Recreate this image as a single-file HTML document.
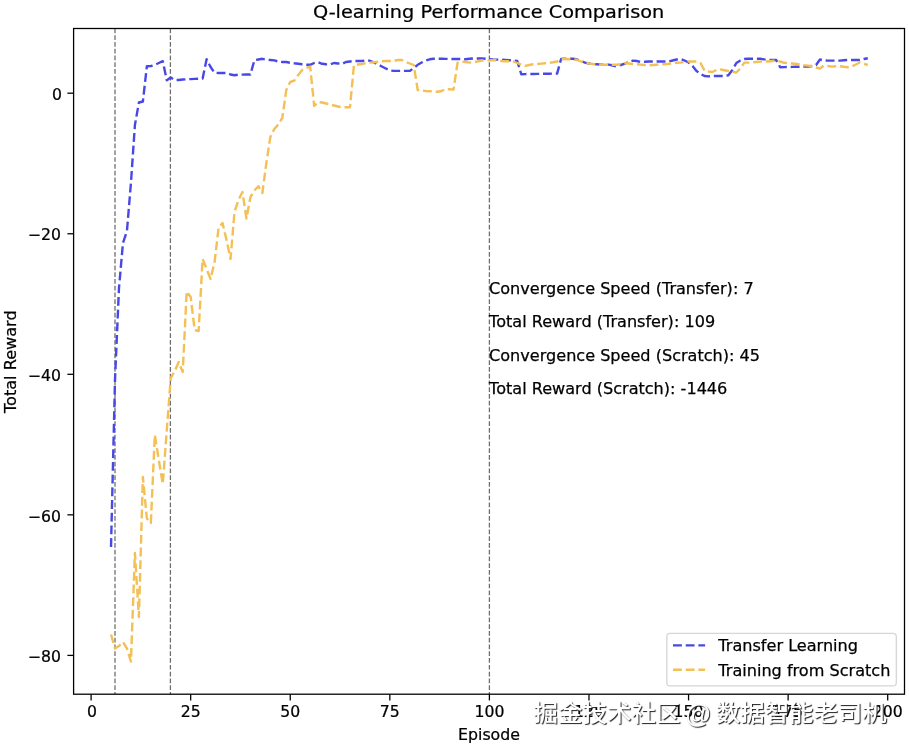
<!DOCTYPE html>
<html><head><meta charset="utf-8"><title>Q-learning Performance Comparison</title>
<style>
html,body{margin:0;padding:0;background:#fff;}
body{width:909px;height:748px;overflow:hidden;position:relative;}
.wm{position:absolute;font-family:"Liberation Sans","Noto Sans CJK SC",sans-serif;font-weight:500;color:#fff;white-space:nowrap;line-height:1;
text-shadow:1px 1px 1px #222;transform-origin:0 0;}
.w1{left:533.6px;top:701.5px;font-size:24.5px;transform:scale(1,0.95);}
.w2{left:685.1px;top:700.9px;font-size:26px;font-weight:400;}
.w3{left:715.9px;top:701.5px;font-size:24.4px;transform:scale(1,0.95);}
</style></head><body>
<svg width="909" height="748" viewBox="0 0 909 748" style="position:absolute;left:0;top:0">
<rect x="0" y="0" width="909" height="748" fill="#fff"/>
<defs><clipPath id="c"><rect x="73.60" y="28.50" width="830.90" height="665.70"/></clipPath></defs>
<line x1="115.00" y1="28.50" x2="115.00" y2="694.20" stroke="#6e6e6e" stroke-width="1.28" stroke-dasharray="4.73 2.04"/>
<line x1="170.40" y1="28.50" x2="170.40" y2="694.20" stroke="#6e6e6e" stroke-width="1.28" stroke-dasharray="4.73 2.04"/>
<line x1="489.40" y1="28.50" x2="489.40" y2="694.20" stroke="#6e6e6e" stroke-width="1.28" stroke-dasharray="4.73 2.04"/>
<polyline clip-path="url(#c)" points="111.01,547.00 115.00,380.00 118.98,288.00 122.96,243.00 126.95,231.00 130.93,183.00 134.91,125.00 138.90,102.50 142.88,101.50 146.86,66.30 150.84,66.00 154.83,65.00 158.81,63.00 162.79,61.20 166.78,80.30 170.76,77.60 174.74,80.00 178.73,80.00 182.71,79.50 186.69,79.30 190.68,79.10 194.66,78.90 198.64,78.70 202.62,78.60 206.61,59.30 210.59,67.00 214.57,72.80 218.56,73.00 222.54,73.00 226.52,73.00 230.50,74.50 234.49,75.30 238.47,74.70 242.45,74.60 246.44,74.50 250.42,74.50 254.40,60.20 258.39,59.50 262.37,58.80 266.35,59.70 270.34,60.00 274.32,60.40 278.30,61.50 282.28,62.00 286.27,62.00 290.25,62.80 294.23,63.30 298.22,63.70 302.20,64.30 306.18,64.80 310.16,64.80 314.15,63.00 318.13,62.30 322.11,63.80 326.10,64.30 330.08,64.50 334.06,63.00 338.05,63.50 342.03,64.00 346.01,62.00 350.00,61.50 353.98,61.00 357.96,61.00 361.94,61.00 365.93,60.50 369.91,60.80 373.89,62.30 377.88,64.50 381.86,66.50 385.84,68.50 389.83,70.40 393.81,70.90 397.79,70.90 401.77,70.90 405.76,70.90 409.74,70.90 413.72,68.10 417.71,64.80 421.69,62.50 425.67,60.60 429.65,59.30 433.64,58.80 437.62,58.80 441.60,58.80 445.59,58.90 449.57,58.90 453.55,59.00 457.54,59.00 461.52,59.10 465.50,59.30 469.49,58.80 473.47,58.50 477.45,58.50 481.43,58.50 485.42,58.80 489.40,59.30 493.38,59.50 497.37,59.60 501.35,59.80 505.33,59.90 509.32,60.20 513.30,60.60 517.28,61.00 521.26,74.20 525.25,74.10 529.23,74.00 533.21,74.00 537.20,73.90 541.18,73.80 545.16,73.80 549.14,73.70 553.13,73.60 557.11,73.60 561.09,59.00 565.08,58.80 569.06,58.80 573.04,58.80 577.03,59.50 581.01,61.00 584.99,62.60 588.98,63.50 592.96,64.00 596.94,64.30 600.92,64.60 604.91,64.60 608.89,64.60 612.87,65.50 616.86,66.50 620.84,65.00 624.82,63.70 628.81,62.00 632.79,60.60 636.77,61.00 640.75,62.00 644.74,61.80 648.72,61.50 652.70,61.50 656.69,61.50 660.67,61.50 664.65,61.50 668.63,61.50 672.62,60.50 676.60,59.50 680.58,59.00 684.57,60.50 688.55,62.50 692.53,66.00 696.52,71.00 700.50,74.00 704.48,76.00 708.47,76.40 712.45,76.00 716.43,76.00 720.41,76.00 724.40,76.00 728.38,75.30 732.36,70.00 736.35,63.00 740.33,60.50 744.31,59.00 748.30,58.80 752.28,58.80 756.26,58.80 760.24,58.80 764.23,59.40 768.21,59.90 772.19,60.00 776.18,60.00 780.16,67.20 784.14,67.10 788.12,67.00 792.11,66.90 796.09,66.80 800.07,66.70 804.06,66.60 808.04,66.60 812.02,66.00 816.01,65.00 819.99,59.50 823.97,60.50 827.96,60.60 831.94,60.60 835.92,60.60 839.90,60.60 843.89,60.20 847.87,60.00 851.85,60.00 855.84,60.00 859.82,60.00 863.80,59.00 867.79,58.20" fill="none" stroke="#4848e6" stroke-width="2.4" stroke-dasharray="8.87 3.83" stroke-linejoin="round" stroke-linecap="butt"/>
<polyline clip-path="url(#c)" points="111.01,634.50 115.00,648.50 118.98,646.00 122.96,642.00 126.95,648.50 130.93,661.50 134.91,553.00 138.90,617.00 142.88,477.00 146.86,518.50 150.84,523.00 154.83,435.00 158.81,460.00 162.79,484.00 166.78,430.00 170.76,378.00 174.74,371.00 178.73,362.00 182.71,372.00 186.69,291.50 190.68,297.00 194.66,330.00 198.64,331.00 202.62,259.00 206.61,269.00 210.59,279.00 214.57,262.00 218.56,228.00 222.54,223.00 226.52,240.00 230.50,259.00 234.49,212.00 238.47,200.00 242.45,192.00 246.44,218.50 250.42,197.00 254.40,190.60 258.39,186.20 262.37,193.00 266.35,163.00 270.34,137.00 274.32,129.00 278.30,124.50 282.28,118.00 286.27,90.00 290.25,82.00 294.23,80.60 298.22,75.00 302.20,70.00 306.18,68.00 310.16,66.50 314.15,106.00 318.13,102.00 322.11,102.50 326.10,103.50 330.08,104.50 334.06,105.50 338.05,106.50 342.03,107.20 346.01,107.20 350.00,107.20 353.98,65.00 357.96,64.50 361.94,64.00 365.93,63.00 369.91,62.60 373.89,62.20 377.88,61.80 381.86,61.20 385.84,61.00 389.83,61.00 393.81,61.00 397.79,60.00 401.77,60.00 405.76,62.00 409.74,63.50 413.72,65.00 417.71,90.00 421.69,90.50 425.67,91.00 429.65,91.20 433.64,91.50 437.62,91.80 441.60,91.00 445.59,89.00 449.57,89.30 453.55,89.60 457.54,62.60 461.52,61.50 465.50,62.00 469.49,62.60 473.47,62.00 477.45,61.50 481.43,60.50 485.42,60.40 489.40,60.40 493.38,60.00 497.37,60.40 501.35,61.00 505.33,61.20 509.32,61.30 513.30,61.50 517.28,63.00 521.26,64.80 525.25,65.90 529.23,65.00 533.21,64.30 537.20,64.00 541.18,63.60 545.16,63.20 549.14,62.80 553.13,62.20 557.11,61.50 561.09,58.80 565.08,59.00 569.06,59.20 573.04,59.30 577.03,60.00 581.01,61.50 584.99,62.60 588.98,63.50 592.96,64.00 596.94,64.50 600.92,64.80 604.91,64.80 608.89,64.80 612.87,64.80 616.86,64.80 620.84,64.00 624.82,63.20 628.81,63.50 632.79,64.00 636.77,64.30 640.75,64.60 644.74,65.00 648.72,65.40 652.70,65.00 656.69,64.70 660.67,64.40 664.65,64.20 668.63,63.80 672.62,63.30 676.60,62.80 680.58,62.60 684.57,62.00 688.55,61.50 692.53,61.50 696.52,61.50 700.50,63.00 704.48,70.50 708.47,71.50 712.45,72.00 716.43,70.00 720.41,69.50 724.40,70.20 728.38,71.00 732.36,71.80 736.35,72.50 740.33,68.50 744.31,62.60 748.30,62.60 752.28,62.50 756.26,62.00 760.24,61.60 764.23,61.50 768.21,61.50 772.19,61.00 776.18,60.60 780.16,61.50 784.14,62.80 788.12,63.20 792.11,63.50 796.09,64.00 800.07,64.50 804.06,65.20 808.04,65.60 812.02,66.00 816.01,67.50 819.99,68.50 823.97,65.50 827.96,66.00 831.94,66.60 835.92,66.30 839.90,66.20 843.89,66.80 847.87,67.20 851.85,66.50 855.84,64.50 859.82,62.50 863.80,63.80 867.79,65.00" fill="none" stroke="#f4c055" stroke-width="2.4" stroke-dasharray="8.87 3.83" stroke-linejoin="round" stroke-linecap="butt"/>
<rect x="73.60" y="28.50" width="830.90" height="665.70" fill="none" stroke="#000" stroke-width="1.28" stroke-linejoin="miter"/>
<line x1="91.10" y1="694.20" x2="91.10" y2="700.40" stroke="#000" stroke-width="1.28"/>
<line x1="190.68" y1="694.20" x2="190.68" y2="700.40" stroke="#000" stroke-width="1.28"/>
<line x1="290.25" y1="694.20" x2="290.25" y2="700.40" stroke="#000" stroke-width="1.28"/>
<line x1="389.83" y1="694.20" x2="389.83" y2="700.40" stroke="#000" stroke-width="1.28"/>
<line x1="489.40" y1="694.20" x2="489.40" y2="700.40" stroke="#000" stroke-width="1.28"/>
<line x1="588.98" y1="694.20" x2="588.98" y2="700.40" stroke="#000" stroke-width="1.28"/>
<line x1="688.55" y1="694.20" x2="688.55" y2="700.40" stroke="#000" stroke-width="1.28"/>
<line x1="788.12" y1="694.20" x2="788.12" y2="700.40" stroke="#000" stroke-width="1.28"/>
<line x1="887.70" y1="694.20" x2="887.70" y2="700.40" stroke="#000" stroke-width="1.28"/>
<line x1="67.40" y1="93.20" x2="73.60" y2="93.20" stroke="#000" stroke-width="1.28"/>
<line x1="67.40" y1="233.76" x2="73.60" y2="233.76" stroke="#000" stroke-width="1.28"/>
<line x1="67.40" y1="374.30" x2="73.60" y2="374.30" stroke="#000" stroke-width="1.28"/>
<line x1="67.40" y1="514.85" x2="73.60" y2="514.85" stroke="#000" stroke-width="1.28"/>
<line x1="67.40" y1="655.40" x2="73.60" y2="655.40" stroke="#000" stroke-width="1.28"/>
<text transform="translate(92.10 717.20) scale(1.0 0.97)" style="font-family:'DejaVu Sans',sans-serif;font-size:15.7px;text-anchor:middle;fill:#000;stroke:#000;stroke-width:0.25px">0</text>
<text transform="translate(190.68 717.20) scale(1.0 0.97)" style="font-family:'DejaVu Sans',sans-serif;font-size:15.7px;text-anchor:middle;fill:#000;stroke:#000;stroke-width:0.25px">25</text>
<text transform="translate(290.25 717.20) scale(1.0 0.97)" style="font-family:'DejaVu Sans',sans-serif;font-size:15.7px;text-anchor:middle;fill:#000;stroke:#000;stroke-width:0.25px">50</text>
<text transform="translate(389.83 717.20) scale(1.0 0.97)" style="font-family:'DejaVu Sans',sans-serif;font-size:15.7px;text-anchor:middle;fill:#000;stroke:#000;stroke-width:0.25px">75</text>
<text transform="translate(489.40 717.20) scale(1.0 0.97)" style="font-family:'DejaVu Sans',sans-serif;font-size:15.7px;text-anchor:middle;fill:#000;stroke:#000;stroke-width:0.25px">100</text>
<text transform="translate(588.98 717.20) scale(1.0 0.97)" style="font-family:'DejaVu Sans',sans-serif;font-size:15.7px;text-anchor:middle;fill:#000;stroke:#000;stroke-width:0.25px">125</text>
<text transform="translate(688.55 717.20) scale(1.0 0.97)" style="font-family:'DejaVu Sans',sans-serif;font-size:15.7px;text-anchor:middle;fill:#000;stroke:#000;stroke-width:0.25px">150</text>
<text transform="translate(788.12 717.20) scale(1.0 0.97)" style="font-family:'DejaVu Sans',sans-serif;font-size:15.7px;text-anchor:middle;fill:#000;stroke:#000;stroke-width:0.25px">175</text>
<text transform="translate(887.70 717.20) scale(1.0 0.97)" style="font-family:'DejaVu Sans',sans-serif;font-size:15.7px;text-anchor:middle;fill:#000;stroke:#000;stroke-width:0.25px">200</text>
<text transform="translate(62.00 99.90) scale(1.0 0.97)" style="font-family:'DejaVu Sans',sans-serif;font-size:15.7px;text-anchor:end;fill:#000;stroke:#000;stroke-width:0.25px">0</text>
<text transform="translate(61.00 240.46) scale(1.0 0.97)" style="font-family:'DejaVu Sans',sans-serif;font-size:15.7px;text-anchor:end;fill:#000;stroke:#000;stroke-width:0.25px">−20</text>
<text transform="translate(61.00 381.00) scale(1.0 0.97)" style="font-family:'DejaVu Sans',sans-serif;font-size:15.7px;text-anchor:end;fill:#000;stroke:#000;stroke-width:0.25px">−40</text>
<text transform="translate(61.00 521.55) scale(1.0 0.97)" style="font-family:'DejaVu Sans',sans-serif;font-size:15.7px;text-anchor:end;fill:#000;stroke:#000;stroke-width:0.25px">−60</text>
<text transform="translate(61.00 662.10) scale(1.0 0.97)" style="font-family:'DejaVu Sans',sans-serif;font-size:15.7px;text-anchor:end;fill:#000;stroke:#000;stroke-width:0.25px">−80</text>
<text transform="translate(489.00 740.30) scale(1.0 0.95)" style="font-family:'DejaVu Sans',sans-serif;font-size:15.75px;text-anchor:middle;fill:#000;stroke:#000;stroke-width:0.25px">Episode</text>
<text transform="translate(15.70 361.70) rotate(-90) scale(1.0 0.98)" style="font-family:'DejaVu Sans',sans-serif;font-size:16.1px;text-anchor:middle;fill:#000;stroke:#000;stroke-width:0.25px">Total Reward</text>
<text transform="translate(488.60 17.60) scale(1.0 0.93)" style="font-family:'DejaVu Sans',sans-serif;font-size:19.3px;text-anchor:middle;fill:#000;stroke:#000;stroke-width:0.25px">Q-learning Performance Comparison</text>
<text transform="translate(489.05 293.80)" style="font-family:'DejaVu Sans',sans-serif;font-size:16.08px;text-anchor:start;fill:#000;stroke:#000;stroke-width:0.25px">Convergence Speed (Transfer): 7</text>
<text transform="translate(489.05 327.30)" style="font-family:'DejaVu Sans',sans-serif;font-size:16.08px;text-anchor:start;fill:#000;stroke:#000;stroke-width:0.25px">Total Reward (Transfer): 109</text>
<text transform="translate(489.05 360.90)" style="font-family:'DejaVu Sans',sans-serif;font-size:16.08px;text-anchor:start;fill:#000;stroke:#000;stroke-width:0.25px">Convergence Speed (Scratch): 45</text>
<text transform="translate(489.05 394.40)" style="font-family:'DejaVu Sans',sans-serif;font-size:16.08px;text-anchor:start;fill:#000;stroke:#000;stroke-width:0.25px">Total Reward (Scratch): -1446</text>
<rect x="666.80" y="633.30" width="229.50" height="52.60" rx="3.2" ry="3.2" fill="#fff" fill-opacity="0.8" stroke="#d6d6d6" stroke-width="1.3"/>
<line x1="673.00" y1="645.40" x2="705.10" y2="645.40" stroke="#4848e6" stroke-width="2.4" stroke-dasharray="8.87 3.83"/>
<text transform="translate(718.30 651.30)" style="font-family:'DejaVu Sans',sans-serif;font-size:16.1px;text-anchor:start;fill:#000;stroke:#000;stroke-width:0.25px">Transfer Learning</text>
<line x1="673.00" y1="669.70" x2="705.10" y2="669.70" stroke="#f4c055" stroke-width="2.4" stroke-dasharray="8.87 3.83"/>
<text transform="translate(718.30 675.60)" style="font-family:'DejaVu Sans',sans-serif;font-size:16.1px;text-anchor:start;fill:#000;stroke:#000;stroke-width:0.25px">Training from Scratch</text>
</svg>
<div class="wm w1">掘金技术社区</div><div class="wm w2">@</div><div class="wm w3">数据智能老司机</div>
</body></html>
